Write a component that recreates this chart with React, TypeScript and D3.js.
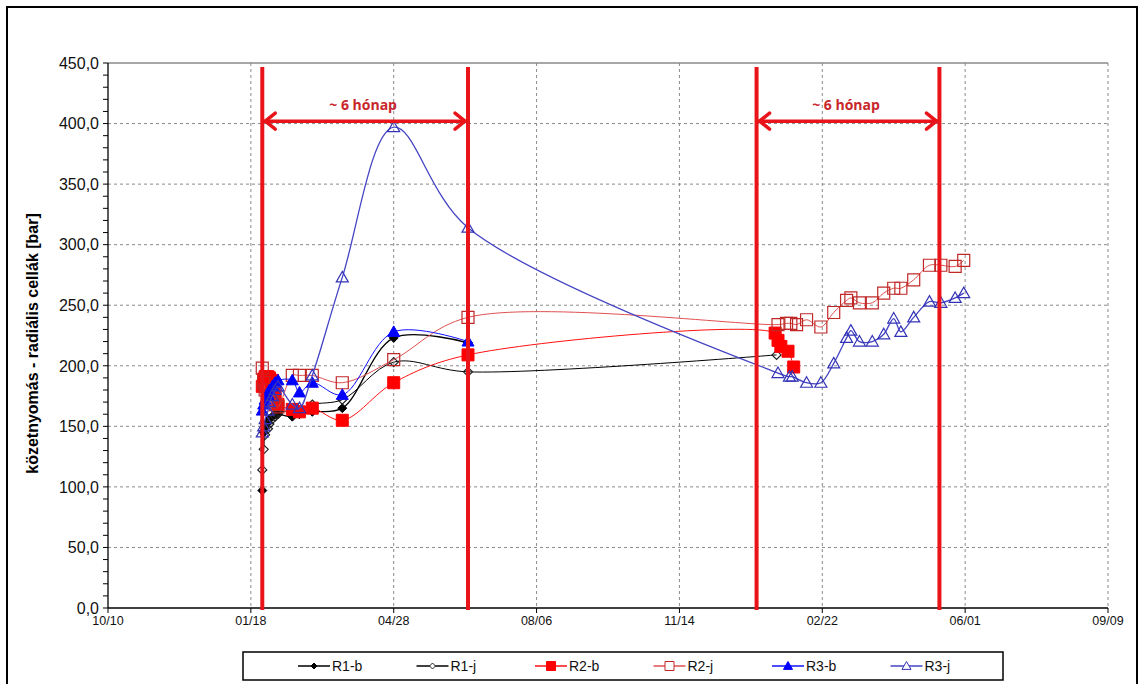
import React from "react";
import * as d3 from "d3";

const W = 1143;
const H = 684;
const PLOT = { left: 108, right: 1108, top: 63, bottom: 608 };

// ---- axes ----
const xDomain = ["2010-10-10", "2012-09-09"];
const xTickDates = ["2010-10-10", "2011-01-18", "2011-04-28", "2011-08-06", "2011-11-14", "2012-02-22", "2012-06-01", "2012-09-09"];
const xTickLabels = ["10/10", "01/18", "04/28", "08/06", "11/14", "02/22", "06/01", "09/09"];
const yDomain = [0, 450];
const yMajorTicks = [0, 50, 100, 150, 200, 250, 300, 350, 400, 450];
const yAxisTitle = "közetnyomás - radiális cellák [bar]";

// ---- period annotations ----
const periodDates = ["2011-01-26", "2011-06-19", "2012-01-07", "2012-05-14"];
const periodLabel = "~ 6 hónap";
const periodArrowValue = 402;
const periodLabelValue = 415;

// ---- series data ----
const leftDates = ["2011-01-26", "2011-01-27", "2011-01-28", "2011-01-30", "2011-01-31", "2011-02-02", "2011-02-04", "2011-02-06", "2011-02-16", "2011-02-21", "2011-03-02", "2011-03-23", "2011-04-28", "2011-06-19"];

const r1bDates = leftDates;
const r1bValues = [97, 145, 150, 153, 156, 158, 160, 160, 158, 160, 162, 165, 223, 219];

const r1jDates = [...leftDates, "2012-01-21"];
const r1jValues = [114, 131, 143, 148, 152, 156, 158, 161, 163, 163, 168, 172, 203, 195, 209];

const r2bDates = [...leftDates, "2012-01-20", "2012-01-22", "2012-01-24", "2012-01-29", "2012-02-02"];
const r2bValues = [183, 189, 191, 191, 190, 188, 178, 168, 164, 162, 165, 155, 186, 209, 227, 221, 216, 212, 199];

const r2jDates = [...leftDates, "2012-01-22", "2012-01-28", "2012-01-31", "2012-02-04", "2012-02-11", "2012-02-21", "2012-03-01", "2012-03-10", "2012-03-13", "2012-03-19", "2012-03-28", "2012-04-05", "2012-04-12", "2012-04-17", "2012-04-26", "2012-05-07", "2012-05-15", "2012-05-25", "2012-05-31"];
const r2jValues = [198, 186, 180, 176, 172, 170, 168, 166, 192, 192, 192, 186, 205, 240, 234, 235, 235, 234, 238, 232, 244, 254, 256, 252, 252, 260, 264, 264, 271, 283, 283, 282, 287];

const r3bDates = leftDates;
const r3bValues = [163, 168, 172, 176, 180, 183, 186, 188, 188, 178, 186, 176, 228, 220];

const r3jDates = [...leftDates, "2012-01-22", "2012-01-30", "2012-02-01", "2012-02-11", "2012-02-21", "2012-03-01", "2012-03-10", "2012-03-13", "2012-03-19", "2012-03-28", "2012-04-05", "2012-04-12", "2012-04-17", "2012-04-26", "2012-05-07", "2012-05-15", "2012-05-25", "2012-05-31"];
const r3jValues = [145, 150, 156, 163, 170, 175, 180, 183, 168, 165, 192, 273, 397, 314, 194, 191, 191, 186, 186, 202, 223, 229, 220, 220, 226, 239, 228, 240, 253, 252, 256, 260];

const seriesNames = ["R1-b", "R1-j", "R2-b", "R2-j", "R3-b", "R3-j"];

type MarkerKind = "diamond" | "square" | "triangle";
const styles: Record<string, { line: string; lw: number; marker: MarkerKind; fill: string; stroke: string; size: number }> = {
  "R1-b": { line: "#000000", lw: 1.3, marker: "diamond", fill: "#000000", stroke: "#000000", size: 4.5 },
  "R1-j": { line: "#000000", lw: 1, marker: "diamond", fill: "none", stroke: "#222222", size: 4.5 },
  "R2-b": { line: "#ff1010", lw: 1, marker: "square", fill: "#ff0000", stroke: "#ff0000", size: 6 },
  "R2-j": { line: "#e05050", lw: 1, marker: "square", fill: "none", stroke: "#c02828", size: 6 },
  "R3-b": { line: "#1010ff", lw: 1, marker: "triangle", fill: "#0000ff", stroke: "#0000ff", size: 6 },
  "R3-j": { line: "#4444c4", lw: 1.3, marker: "triangle", fill: "none", stroke: "#3333b8", size: 6 },
};

const parse = (s: string) => new Date(s + "T00:00:00Z");

function markerPath(kind: MarkerKind, r: number) {
  if (kind === "diamond") return `M0,${-r}L${r},0L0,${r}L${-r},0Z`;
  if (kind === "square") return `M${-r},${-r}H${r}V${r}H${-r}Z`;
  return `M0,${-r}L${r},${r * 0.75}L${-r},${r * 0.75}Z`;
}

export default function App() {
  const x = d3.scaleUtc().domain(xDomain.map(parse)).range([PLOT.left, PLOT.right]);
  const y = d3.scaleLinear().domain(yDomain).range([PLOT.bottom, PLOT.top]);

  const seriesData: Record<string, { dates: string[]; values: number[] }> = {
    "R1-b": { dates: r1bDates, values: r1bValues },
    "R1-j": { dates: r1jDates, values: r1jValues },
    "R2-b": { dates: r2bDates, values: r2bValues },
    "R2-j": { dates: r2jDates, values: r2jValues },
    "R3-b": { dates: r3bDates, values: r3bValues },
    "R3-j": { dates: r3jDates, values: r3jValues },
  };

  const line = d3
    .line<[number, number]>()
    .x((d) => d[0])
    .y((d) => d[1])
    .curve(d3.curveCatmullRom.alpha(0.5));

  const yMinor = d3.range(0, 451, 10);
  const fmt = (v: number) => v.toFixed(1).replace(".", ",");
  const red = "#e8141a";
  const font = "'Liberation Sans', Arial, sans-serif";

  const periodX = periodDates.map((d) => x(parse(d)));
  const arrowY = y(periodArrowValue);
  const labelY = y(periodLabelValue);

  const arrows: { x1: number; x2: number }[] = [
    { x1: periodX[0], x2: periodX[1] },
    { x1: periodX[2], x2: periodX[3] },
  ];

  const legendX0 = 314;
  const legendStep = 118.5;
  const legendY = 666;

  return (
    <svg width={W} height={H} style={{ position: "absolute", left: 0, top: 0, background: "#fff" }} fontFamily={font}>
      <rect x={0} y={0} width={W} height={H} fill="#fff" />
      {/* outer frame */}
      <path d={`M7,${H + 10}V7H1137V${H + 10}`} fill="none" stroke="#000" strokeWidth={2} />

      {/* grid */}
      {yMajorTicks.filter((v) => v > 0 && v < 450).map((v) => (
        <line key={"gy" + v} x1={PLOT.left} x2={PLOT.right} y1={y(v)} y2={y(v)} stroke="#8a8a8a" strokeWidth={1} strokeDasharray="3,3" />
      ))}
      {xTickDates.slice(1).map((d) => (
        <line key={"gx" + d} x1={x(parse(d))} x2={x(parse(d))} y1={PLOT.top} y2={PLOT.bottom} stroke="#8a8a8a" strokeWidth={1} strokeDasharray="3,3" />
      ))}
      <line x1={PLOT.left} x2={PLOT.right} y1={PLOT.top} y2={PLOT.top} stroke="#8a8a8a" strokeWidth={1.5} />

      {/* axes */}
      <line x1={PLOT.left} x2={PLOT.left} y1={PLOT.top} y2={PLOT.bottom} stroke="#000" strokeWidth={1.3} />
      <line x1={PLOT.left} x2={PLOT.right} y1={PLOT.bottom} y2={PLOT.bottom} stroke="#000" strokeWidth={1.3} />
      {yMinor.map((v) => (
        <line key={"ym" + v} x1={PLOT.left - 5} x2={PLOT.left} y1={y(v)} y2={y(v)} stroke="#000" strokeWidth={1} />
      ))}
      {yMajorTicks.map((v) => (
        <text key={"yl" + v} x={PLOT.left - 9} y={y(v)} dy="0.36em" textAnchor="end" fontSize={16} fill="#111">
          {fmt(v)}
        </text>
      ))}
      {xTickDates.map((d, i) => (
        <g key={"xt" + d}>
          <line x1={x(parse(d))} x2={x(parse(d))} y1={PLOT.bottom} y2={PLOT.bottom + 5} stroke="#000" strokeWidth={1} />
          <text x={x(parse(d))} y={PLOT.bottom + 17} textAnchor="middle" fontSize={12.5} fill="#111">
            {xTickLabels[i]}
          </text>
        </g>
      ))}
      <text
        transform={`translate(38,${(PLOT.top + PLOT.bottom) / 2 + 8}) rotate(-90)`}
        textAnchor="middle"
        fontSize={16}
        fontWeight="bold"
        fill="#000"
      >
        {yAxisTitle}
      </text>

      {/* series */}
      {seriesNames.map((name) => {
        const s = seriesData[name];
        const st = styles[name];
        const pts: [number, number][] = s.dates.map((d, i) => [x(parse(d)), y(s.values[i])]);
        return (
          <g key={name}>
            <path d={line(pts) || ""} fill="none" stroke={st.line} strokeWidth={st.lw} />
            {pts.map((p, i) => (
              <path
                key={i}
                d={markerPath(st.marker, st.size)}
                transform={`translate(${p[0]},${p[1]})`}
                fill={st.fill}
                stroke={st.stroke}
                strokeWidth={st.fill === "none" ? 1.2 : 1}
              />
            ))}
          </g>
        );
      })}

      {/* period annotations */}
      {periodX.map((px, i) => (
        <line key={"pv" + i} x1={px} x2={px} y1={67} y2={PLOT.bottom + 2} stroke={red} strokeWidth={4} />
      ))}
      {arrows.map((a, i) => (
        <g key={"ar" + i} stroke={red} strokeWidth={3.5} fill="none" strokeLinecap="round" strokeLinejoin="round">
          <line x1={a.x1 + 2} x2={a.x2 - 2} y1={arrowY} y2={arrowY} />
          <path d={`M${a.x1 + 13},${arrowY - 8}L${a.x1 + 3},${arrowY}L${a.x1 + 13},${arrowY + 8}`} />
          <path d={`M${a.x2 - 13},${arrowY - 8}L${a.x2 - 3},${arrowY}L${a.x2 - 13},${arrowY + 8}`} />
          <text
            x={(a.x1 + a.x2) / 2 - 2}
            y={labelY}
            dy="0.35em"
            textAnchor="middle"
            fontSize={14}
            fontWeight="bold"
            fill="#c8262a"
            stroke="none"
            fontFamily="'Open Sans', 'Liberation Sans', sans-serif"
          >
            {periodLabel}
          </text>
        </g>
      ))}

      {/* legend */}
      <rect x={243} y={652} width={760} height={28} fill="#fff" stroke="#000" strokeWidth={1.5} />
      {seriesNames.map((name, i) => {
        const st = styles[name];
        const cx = legendX0 + i * legendStep;
        return (
          <g key={"lg" + name}>
            <line x1={cx - 16} x2={cx + 16} y1={legendY} y2={legendY} stroke={st.line} strokeWidth={1.5} />
            <path
              d={markerPath(st.marker, st.size - 1.5)}
              transform={`translate(${cx},${legendY})`}
              fill={st.fill === "none" ? "#fff" : st.fill}
              stroke={st.stroke}
              strokeWidth={1}
            />
            <text x={cx + 18} y={legendY} dy="0.36em" fontSize={14} fill="#111">
              {name}
            </text>
          </g>
        );
      })}
    </svg>
  );
}
